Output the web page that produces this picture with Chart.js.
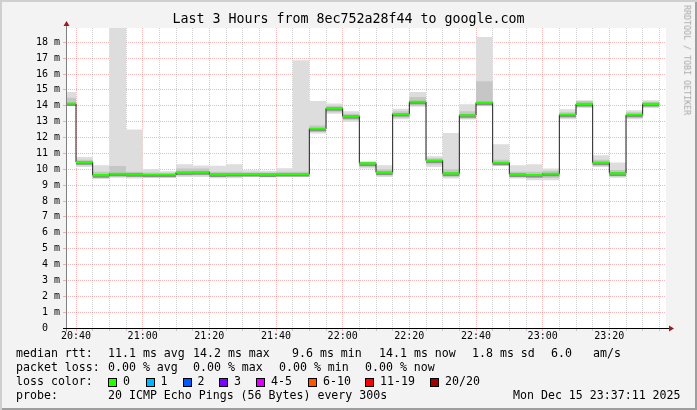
<!DOCTYPE html>
<html>
<head>
<meta charset="utf-8">
<script src="https://cdn.jsdelivr.net/npm/chart.js@4.4.1/dist/chart.umd.min.js"></script>
<style>
    body { margin: 0; background: #fff; }
    #frame {
        position: relative; width: 697px; height: 410px; overflow: hidden;
        background: #f3f3f3;
        box-shadow: inset 2px 2px 0 #cfcfcf, inset -2px -2px 0 #9e9e9e;
        font-family: 'DejaVu Sans Mono', monospace; color: #000;
    }
    #frame canvas { position: absolute; left: 0; top: 0; }
    .t { position: absolute; white-space: pre; line-height: 1; }
    .box { position: absolute; width: 7px; height: 7px; border: 1px solid #000; }
</style>
</head>
<body>
<div id="frame">
    <canvas id="smoke" width="697" height="410"></canvas>
</div>
<script>
// 5 minute slots; first one is partial (graph starts at 20:37)
const slotTimes = ['20:37', '20:40', '20:45', '20:50', '20:55', '21:00', '21:05', '21:10', '21:15',
    '21:20', '21:25', '21:30', '21:35', '21:40', '21:45', '21:50', '21:55', '22:00', '22:05', '22:10',
    '22:15', '22:20', '22:25', '22:30', '22:35', '22:40', '22:45', '22:50', '22:55', '23:00', '23:05',
    '23:10', '23:15', '23:20', '23:25', '23:30', '23:35'];
const graphStart = '20:37';
const graphEnd = '23:37';

// median rtt per slot (ms)
const medianRtt = [14.14, 10.45, 9.63, 9.72, 9.69, 9.65, 9.65, 9.8, 9.82, 9.68, 9.7, 9.7, 9.68, 9.7,
    9.7, 12.55, 13.84, 13.34, 10.37, 9.8, 13.48, 14.25, 10.55, 9.74, 13.4, 14.2, 10.41, 9.68, 9.64,
    9.72, 13.43, 14.12, 10.42, 9.74, 13.43, 14.12];
// smoke: fastest / slowest ping per slot
const smokeMin = [13.99, 10.15, 9.38, 9.46, 9.42, 9.46, 9.46, 9.52, 9.52, 9.44, 9.44, 9.52, 9.48, 9.52,
    9.52, 12.25, 13.5, 12.98, 10.05, 9.52, 13.15, 13.94, 10.15, 9.42, 13.13, 13.97, 10.2, 9.42, 9.31,
    9.31, 13.15, 13.86, 10.15, 9.46, 13.15, 13.86];
const smokeMax = [14.87, 10.78, 10.26, 19.5, 12.5, 10.0, 9.88, 10.32, 10.24, 10.22, 10.32, 9.94, 9.9,
    10.07, 16.87, 14.3, 14.14, 13.65, 10.5, 10.26, 13.82, 14.87, 10.82, 12.29, 14.1, 18.33, 11.58, 10.26,
    10.32, 10.05, 13.78, 14.35, 10.89, 10.42, 13.72, 14.35];
// denser part of the smoke
const smokeMidLow = [14.05, 10.25, 9.48, 9.55, 9.52, 9.52, 9.52, 9.6, 9.62, 9.52, 9.52, 9.56, 9.54, 9.56,
    9.56, 12.35, 13.6, 13.1, 10.15, 9.6, 13.25, 14.0, 10.3, 9.52, 13.2, 14.02, 10.25, 9.5, 9.45, 9.45,
    13.25, 13.95, 10.25, 9.55, 13.25, 13.95];
const smokeMidHigh = [14.5, 10.6, 9.85, 10.2, 9.85, 9.8, 9.78, 10.05, 10.05, 9.85, 9.85, 9.82, 9.8, 9.85,
    9.85, 12.75, 14.0, 13.5, 10.45, 10.0, 13.65, 14.55, 10.7, 10.0, 13.65, 15.55, 10.6, 9.85, 9.85, 9.9,
    13.6, 14.3, 10.6, 9.95, 13.6, 14.25];

const xTickLabels = ['20:40', '21:00', '21:20', '21:40', '22:00', '22:20', '22:40', '23:00', '23:20'];
const yTickLabels = ['0  ', '1 m', '2 m', '3 m', '4 m', '5 m', '6 m', '7 m', '8 m', '9 m', '10 m',
    '11 m', '12 m', '13 m', '14 m', '15 m', '16 m', '17 m', '18 m'];
const yTop = 18.9;

const lossColors = ['#26ff00', '#00b8ff', '#0059ff', '#7e00ff', '#dd00ff', '#ff5500', '#ff0000', '#a10000'];
const lossLabels = ['0', '1', '2', '3', '4-5', '6-10', '11-19', '20/20'];

function toMinutes(t) {
    const [h, m] = t.split(':').map(Number);
    return h * 60 + m;
}
function pad2(n) { return String(n).padStart(2, '0'); }
function fmtTime(v) { return pad2(Math.floor(v / 60)) + ':' + pad2(v % 60); }

// value i holds from slotTimes[i] to slotTimes[i + 1]
function stepPoints(values) {
    return slotTimes.map((t, i) => ({ x: toMinutes(t), y: values[Math.min(i, values.length - 1)] }));
}

function band(lo, hi, color, order) {
    const common = { stepped: 'before', pointRadius: 0, borderWidth: 0, borderColor: 'rgba(0,0,0,0)', order };
    return [
        { ...common, data: stepPoints(lo), fill: false },
        { ...common, data: stepPoints(hi), fill: '-1', backgroundColor: color }
    ];
}

const MGRID = 'rgba(230, 110, 110, 0.5)';
const GRID = 'rgba(150, 150, 150, 0.45)';

const xGrid = slotTimes.slice(1).map(toMinutes);
const yGrid = [];
for (let v = 0; v < yTop; v += 0.5) yGrid.push(v);

const frameDecor = {
    id: 'frameDecor',
    beforeDraw(chart) {
        const { ctx, chartArea: a } = chart;
        ctx.save();
        ctx.fillStyle = '#fff';
        ctx.fillRect(a.left, a.top, a.right - a.left, a.bottom - a.top);
        ctx.restore();
    },
    afterDatasetsDraw(chart) {
        const { ctx, chartArea: a } = chart;
        const l = Math.round(a.left) + 0.5;
        const b = Math.round(a.bottom) + 0.5;
        ctx.save();
        ctx.lineWidth = 1;
        ctx.strokeStyle = '#808080';
        ctx.beginPath(); ctx.moveTo(l, b + 3); ctx.lineTo(l, a.top - 3); ctx.stroke();
        ctx.strokeStyle = '#000';
        ctx.beginPath(); ctx.moveTo(a.left - 3, b); ctx.lineTo(a.right + 4, b); ctx.stroke();
        ctx.fillStyle = '#9b1c1c';
        ctx.beginPath(); ctx.moveTo(l, a.top - 7); ctx.lineTo(l - 3, a.top - 2); ctx.lineTo(l + 3, a.top - 2); ctx.closePath(); ctx.fill();
        ctx.beginPath(); ctx.moveTo(a.right + 8, b); ctx.lineTo(a.right + 3, b - 3); ctx.lineTo(a.right + 3, b + 3); ctx.closePath(); ctx.fill();
        ctx.restore();
    }
};

const tickFont = { family: 'DejaVu Sans Mono', size: 10 };

new Chart(document.getElementById('smoke'), {
    type: 'line',
    data: {
        datasets: [
            ...band(smokeMin, smokeMax, '#dddddd', 6),
            ...band(smokeMidLow, smokeMidHigh, '#c6c6c6', 5),
            ...band(medianRtt.map(v => v - 0.16), medianRtt.map(v => v + 0.04), '#8e8e8e', 4),
            {
                data: stepPoints(medianRtt), stepped: 'before', pointRadius: 0,
                borderWidth: 1, borderColor: '#202020', fill: false, order: 2
            },
            ...band(medianRtt.map(v => v - 0.065), medianRtt.map(v => v + 0.065), lossColors[0], 1)
        ]
    },
    options: {
        responsive: false,
        animation: false,
        events: [],
        layout: { padding: { left: 0, top: 28, right: 31, bottom: 0 } },
        plugins: { legend: { display: false }, tooltip: { enabled: false }, title: { display: false } },
        scales: {
            x: {
                type: 'linear',
                min: toMinutes(graphStart),
                max: toMinutes(graphEnd),
                afterBuildTicks: s => { s.ticks = xGrid.map(v => ({ value: v })); },
                afterFit: s => { s.height = 82; },
                ticks: {
                    autoSkip: false, maxRotation: 0, padding: -1, color: '#000', font: tickFont,
                    callback: v => (xTickLabels.includes(fmtTime(v)) ? fmtTime(v) : '')
                },
                grid: {
                    color: c => (c.tick && c.tick.value % 20 === 0 ? MGRID : GRID),
                    tickLength: 3
                },
                border: { display: false, dash: [1, 1] }
            },
            y: {
                type: 'linear',
                min: 0,
                max: yTop,
                afterBuildTicks: s => { s.ticks = yGrid.map(v => ({ value: v })); },
                afterFit: s => { s.width = 66; },
                ticks: {
                    padding: 3, color: '#000', font: tickFont,
                    callback: v => (Number.isInteger(v) ? yTickLabels[v] : '')
                },
                grid: {
                    color: c => (c.tick && Number.isInteger(c.tick.value) ? MGRID : GRID),
                    tickLength: 3
                },
                border: { display: false, dash: [1, 1] }
            }
        }
    },
    plugins: [frameDecor]
});

// texts around the graph
const frame = document.getElementById('frame');
function place(text, x, cy, size, style) {
    const el = document.createElement('div');
    el.className = 't';
    el.textContent = text;
    el.style.left = x + 'px';
    el.style.top = (cy - size / 2) + 'px';
    el.style.fontSize = size + 'px';
    Object.assign(el.style, style || {});
    frame.appendChild(el);
    return el;
}

place('Last 3 Hours from 8ec752a28f44 to google.com', 0, 19, 13.3, { width: '697px', textAlign: 'center' });
place('Seconds', 11, 174, 12.5, { fontFamily: 'DejaVu Sans', transform: 'translate(-50%, 0) rotate(-90deg)', transformOrigin: '0 50%' });
place('RRDTOOL / TOBI OETIKER', 687, 60, 8.3, { color: '#a8a8a8', transform: 'translate(-50%, 0) rotate(90deg)' });

const legendSize = 11.6;
const rtt = [['median rtt:', 16], ['11.1 ms avg', 108], ['14.2 ms max', 193], ['9.6 ms min', 292],
    ['14.1 ms now', 379], ['1.8 ms sd', 472], ['6.0', 551], ['am/s', 593]];
rtt.forEach(([t, x]) => place(t, x, 354, legendSize));
const loss = [['packet loss:', 16], ['0.00 % avg', 108], ['0.00 % max', 193], ['0.00 % min', 279], ['0.00 % now', 365]];
loss.forEach(([t, x]) => place(t, x, 368, legendSize));
place('loss color:', 16, 382, legendSize);
const boxX = [108, 145.5, 182.5, 219, 256, 308, 365, 430];
lossLabels.forEach((lab, i) => {
    const b = document.createElement('div');
    b.className = 'box';
    b.style.left = boxX[i] + 'px';
    b.style.top = '377.5px';
    b.style.background = lossColors[i];
    frame.appendChild(b);
    place(lab, boxX[i] + 15, 382, legendSize);
});
place('probe:', 16, 396, legendSize);
place('20 ICMP Echo Pings (56 Bytes) every 300s', 108, 396, legendSize);
place('Mon Dec 15 23:37:11 2025', 513, 396, legendSize);
</script>
</body>
</html>
